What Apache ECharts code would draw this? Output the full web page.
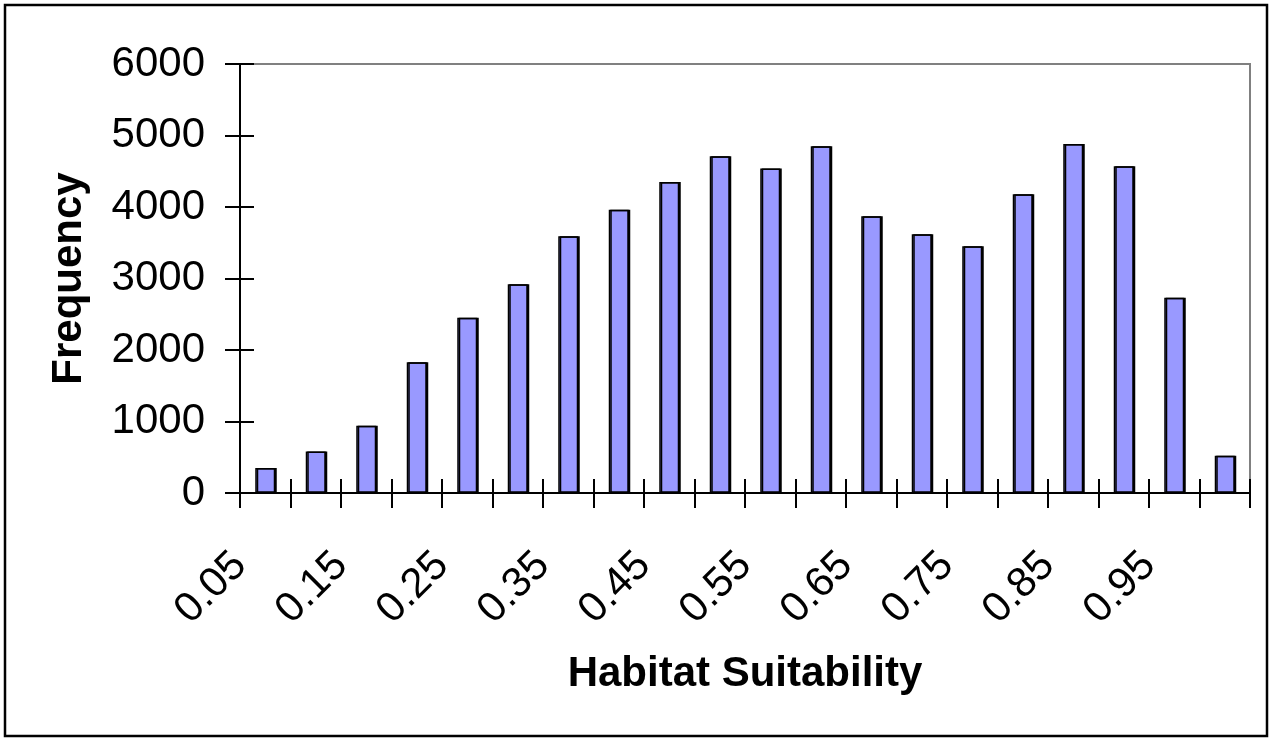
<!DOCTYPE html>
<html>
<head>
<meta charset="utf-8">
<script src="https://cdn.jsdelivr.net/npm/echarts@6/dist/echarts.min.js"></script>
<style>
  html, body { margin: 0; padding: 0; background: #fff; }
  #chart { width: 1271px; height: 739px; }
</style>
</head>
<body>
<div id="chart"></div>
<script>
// Bins (20 categories)
var categories = ['0.05','0.1','0.15','0.2','0.25','0.3','0.35','0.4','0.45','0.5',
                  '0.55','0.6','0.65','0.7','0.75','0.8','0.85','0.9','0.95','1'];
// Frequency values
var frequency = [350, 580, 940, 1830, 2450, 2920, 3590, 3960, 4350, 4710,
                 4540, 4850, 3870, 3620, 3450, 4180, 4880, 4570, 2730, 520];
// Tick labels placed at category boundaries (21 boundaries)
var tickLabels = ['0.05','','0.15','','0.25','','0.35','','0.45','','0.55','',
                  '0.65','','0.75','','0.85','','0.95','',''];
var yMin = 0, yMax = 6000, yInterval = 1000;
var xTitle = 'Habitat Suitability';
var yTitle = 'Frequency';

var FONT = "'Liberation Sans', Arial, Helvetica, sans-serif";
var chart = echarts.init(document.getElementById('chart'), null, { renderer: 'canvas' });

chart.setOption({
  animation: false,
  backgroundColor: '#ffffff',
  graphic: [{
    type: 'rect',
    shape: { x: 5, y: 5, width: 1262, height: 731 },
    style: { fill: 'none', stroke: '#000', lineWidth: 2.5 },
    z: 100
  }],
  grid: {
    left: 240, right: 21, top: 64, bottom: 246,
    show: true, borderColor: '#808080', borderWidth: 2, backgroundColor: 'transparent'
  },
  xAxis: [{
    type: 'category',
    data: categories,
    position: 'bottom',
    boundaryGap: true,
    axisLine: { show: true, lineStyle: { color: '#000', width: 2 } },
    axisTick: { show: true, inside: false, length: 15, interval: 0, lineStyle: { color: '#000', width: 2 } },
    axisLabel: { show: false },
    splitLine: { show: false },
    name: xTitle,
    nameLocation: 'middle',
    nameGap: 160,
    nameTextStyle: { fontFamily: FONT, fontSize: 42, fontWeight: 'bold', color: '#000' },
    z: 10
  }, {
    type: 'category',
    data: tickLabels,
    position: 'bottom',
    boundaryGap: false,
    axisLine: { show: false },
    axisTick: { show: true, inside: true, length: 14, interval: 0, lineStyle: { color: '#000', width: 2 } },
    axisLabel: {
      show: true, interval: 0, rotate: 45, margin: 66,
      fontFamily: FONT, fontSize: 42, color: '#000'
    },
    splitLine: { show: false },
    z: 10
  }],
  yAxis: [{
    type: 'value',
    min: yMin, max: yMax, interval: yInterval,
    position: 'left',
    axisLine: { show: true, lineStyle: { color: '#000', width: 2 } },
    axisTick: { show: true, inside: false, length: 15, lineStyle: { color: '#000', width: 2 } },
    axisLabel: {
      show: true, margin: 35, fontFamily: FONT, fontSize: 42, color: '#000',
      formatter: function (v) { return String(v); }
    },
    splitLine: { show: false },
    name: yTitle,
    nameLocation: 'middle',
    nameGap: 150,
    nameRotate: 90,
    nameTextStyle: { fontFamily: FONT, fontSize: 42, fontWeight: 'bold', color: '#000' },
    z: 10
  }, {
    type: 'value',
    min: yMin, max: yMax, interval: yInterval,
    position: 'left',
    axisLine: { show: false },
    axisTick: { show: true, inside: true, length: 14, lineStyle: { color: '#000', width: 2 } },
    axisLabel: { show: false },
    splitLine: { show: false },
    z: 10
  }],
  series: [{
    type: 'bar',
    xAxisIndex: 0,
    yAxisIndex: 0,
    data: frequency,
    barWidth: 20,
    itemStyle: {
      color: '#9999ff', borderColor: '#000', borderWidth: 1.5,
      shadowColor: '#000', shadowBlur: 0, shadowOffsetX: 1.5, shadowOffsetY: 0
    }
  }]
});
</script>
</body>
</html>
